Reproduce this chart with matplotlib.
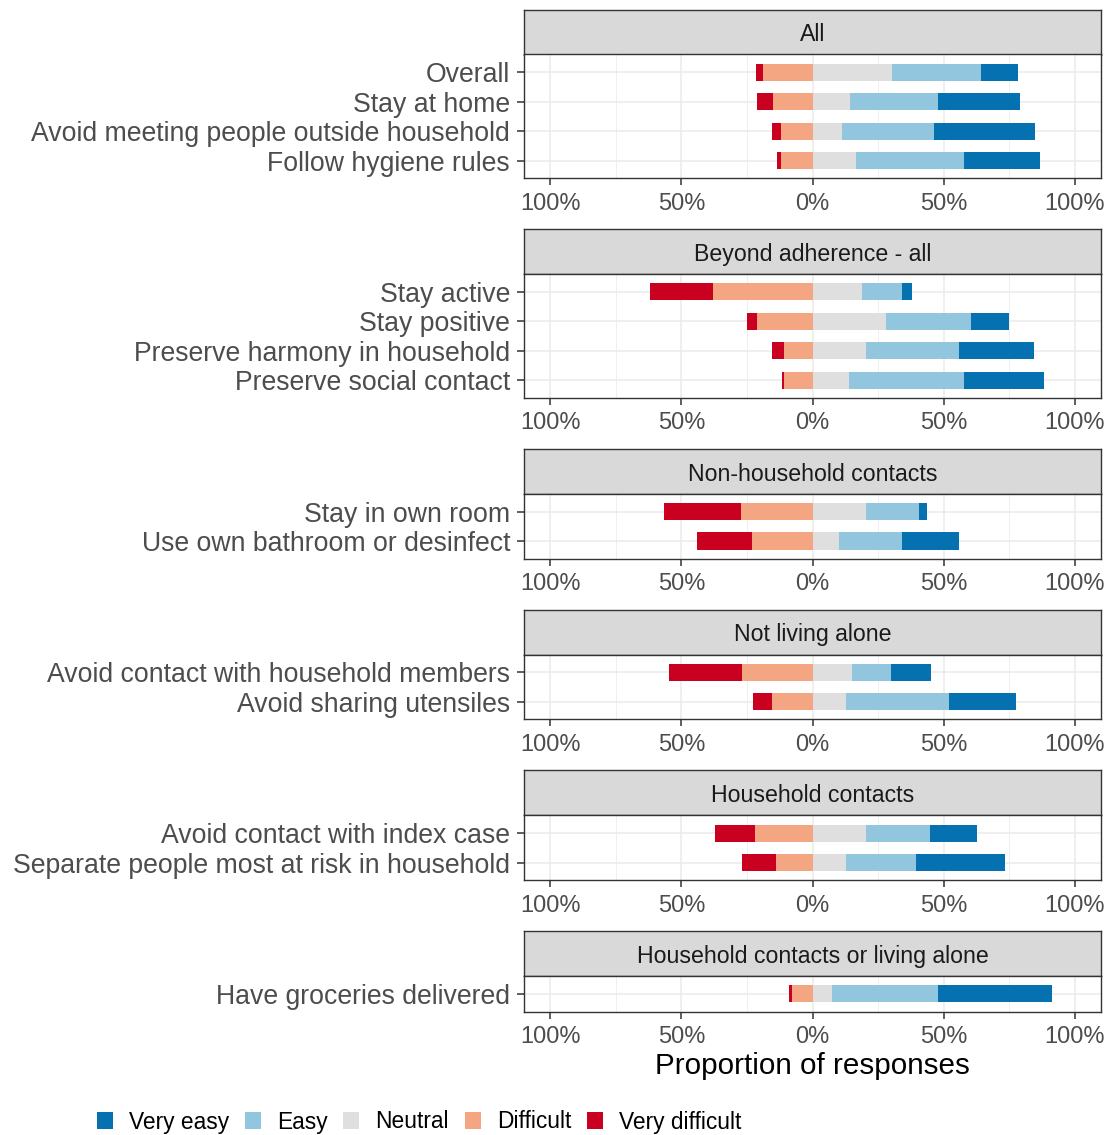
import matplotlib
matplotlib.use('Agg')
import matplotlib.pyplot as plt
from matplotlib.patches import Patch
from matplotlib.ticker import MultipleLocator, FuncFormatter

plt.rcParams['font.family'] = ['Liberation Sans', 'DejaVu Sans']

# ---- data (percent of responses) ----
groups = ['All', 'Beyond adherence - all', 'Non-household contacts',
          'Not living alone', 'Household contacts',
          'Household contacts or living alone']

items = ['Overall', 'Stay at home', 'Avoid meeting people outside household',
         'Follow hygiene rules',
         'Stay active', 'Stay positive', 'Preserve harmony in household',
         'Preserve social contact',
         'Stay in own room', 'Use own bathroom or desinfect',
         'Avoid contact with household members', 'Avoid sharing utensiles',
         'Avoid contact with index case',
         'Separate people most at risk in household',
         'Have groceries delivered']
item_group = [0, 0, 0, 0, 1, 1, 1, 1, 2, 2, 3, 3, 4, 4, 5]

very_difficult = [2.7, 5.9, 3.2, 1.3, 24.2, 3.7, 4.7, 1.0, 29.2, 21.2, 28.0, 7.4, 15.3, 12.7, 0.8]
difficult = [18.7, 15.1, 12.1, 12.1, 37.9, 21.1, 10.8, 10.7, 27.3, 23.0, 26.8, 15.3, 21.8, 14.1, 8.0]
neutral = [30.2, 14.3, 11.1, 16.7, 19.0, 27.9, 20.4, 13.8, 20.3, 10.0, 14.9, 12.8, 20.4, 12.6, 7.6]
easy = [33.9, 33.4, 35.3, 40.9, 15.0, 32.7, 35.6, 43.8, 20.2, 24.3, 14.9, 39.3, 24.3, 27.0, 40.1]
very_easy = [14.4, 31.4, 38.5, 29.0, 4.1, 14.4, 28.6, 30.7, 3.1, 21.5, 15.2, 25.4, 18.1, 33.7, 43.7]

legend_labels = ['Very easy', 'Easy', 'Neutral', 'Difficult', 'Very difficult']
colors = {'Very easy': '#0571B0', 'Easy': '#92C5DE', 'Neutral': '#DFDFDF',
          'Difficult': '#F4A582', 'Very difficult': '#CA0020'}

# ---- layout (pixels, top-based) ----
W, H = 1110, 1135
fig = plt.figure(figsize=(W / 100, H / 100), dpi=100)

left_px, right_px = 524, 1101
strip_h = 45
unit = 29.45
gap = 51
top = 9.5


def px_axes(l, t, r, b):
    return fig.add_axes([l / W, 1 - b / H, (r - l) / W, (b - t) / H])


border = '#333333'
y = top
for g, gname in enumerate(groups):
    idx = [i for i, ig in enumerate(item_group) if ig == g]
    n = len(idx)
    ph = (n - 1 + 1.2) * unit

    # strip
    sax = px_axes(left_px, y, right_px, y + strip_h)
    sax.set_facecolor('#D9D9D9')
    sax.set_xticks([])
    sax.set_yticks([])
    for sp in sax.spines.values():
        sp.set_color(border)
        sp.set_linewidth(1.0)
    sax.text(0.5, 0.44, gname, ha='center', va='center', fontsize=16.7,
             color='#1A1A1A', transform=sax.transAxes)

    # panel
    ax = px_axes(left_px, y + strip_h, right_px, y + strip_h + ph)
    pos = list(range(n))
    vd = [very_difficult[i] for i in idx]
    d = [difficult[i] for i in idx]
    nu = [neutral[i] for i in idx]
    e = [easy[i] for i in idx]
    ve = [very_easy[i] for i in idx]
    bh = 0.58
    ax.barh(pos, [-v for v in d], height=bh, color=colors['Difficult'], zorder=3)
    ax.barh(pos, [-v for v in vd], left=[-v for v in d], height=bh,
            color=colors['Very difficult'], zorder=3)
    ax.barh(pos, nu, height=bh, color=colors['Neutral'], zorder=3)
    ax.barh(pos, e, left=nu, height=bh, color=colors['Easy'], zorder=3)
    ax.barh(pos, ve, left=[a + b for a, b in zip(nu, e)], height=bh,
            color=colors['Very easy'], zorder=3)

    ax.set_xlim(-110, 110)
    ax.set_ylim(n - 1 + 0.6, -0.6)
    ax.xaxis.set_major_locator(MultipleLocator(50))
    ax.xaxis.set_minor_locator(MultipleLocator(25))
    ax.xaxis.set_major_formatter(FuncFormatter(lambda v, p: f'{abs(v):.0f}%'))
    ax.set_yticks(pos)
    ax.set_yticklabels([items[i] for i in idx])
    ax.grid(True, which='major', color='#EBEBEB', lw=1.1, zorder=0)
    ax.grid(True, which='minor', axis='x', color='#EBEBEB', lw=0.55, zorder=0)
    ax.set_axisbelow(True)
    ax.tick_params(axis='both', which='major', length=5, width=1.1,
                   color=border, labelcolor='#4D4D4D')
    ax.tick_params(axis='y', pad=5, labelsize=19.2)
    ax.tick_params(axis='x', pad=5.5, labelsize=17)
    ax.tick_params(axis='x', which='minor', length=0)
    for sp in ax.spines.values():
        sp.set_color(border)
        sp.set_linewidth(1.0)

    y = y + strip_h + ph + gap

fig.text((left_px + right_px) / 2 / W, 1 - 1066 / H, 'Proportion of responses',
         ha='center', va='center', fontsize=21.3, color='black')

handles = [Patch(facecolor=colors[k], edgecolor='none') for k in legend_labels]
fig.legend(handles, legend_labels, ncol=5, loc='center left',
           bbox_to_anchor=(97 / W, 1 - 1122 / H), frameon=False,
           fontsize=16.4, handlelength=0.7, handleheight=0.8,
           handletextpad=0.7, columnspacing=0.7, borderpad=0,
           borderaxespad=0)

fig.savefig('out.png', dpi=100)
